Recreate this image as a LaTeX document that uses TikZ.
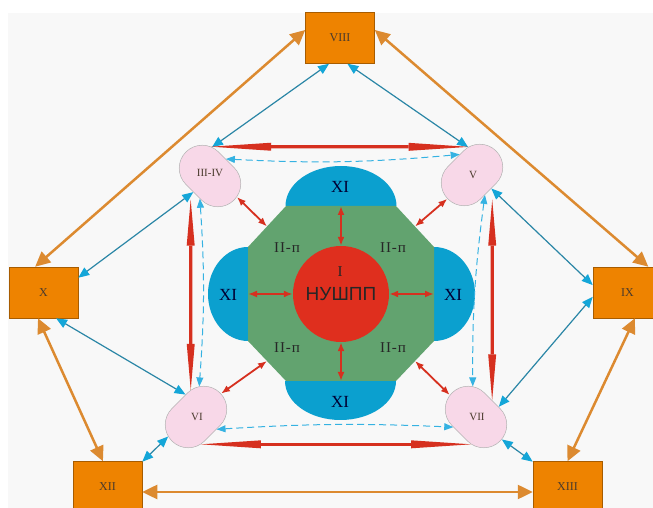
\documentclass[tikz,border=0pt]{standalone}
\usepackage{fontspec}
\setmainfont{Liberation Serif}
\setsansfont{Liberation Sans}
\usepackage{tikz}
\usetikzlibrary{arrows.meta,shapes.misc}
\definecolor{bggray}{HTML}{F8F8F8}
\definecolor{boxorange}{HTML}{EE8300}
\definecolor{linkorange}{HTML}{DC8A30}
\definecolor{capblue}{HTML}{0BA0CF}
\definecolor{octgreen}{HTML}{62A36F}
\definecolor{corered}{HTML}{DF2F1E}
\definecolor{capsulepink}{HTML}{F8D8E8}
\definecolor{linkred}{HTML}{D6301F}
\definecolor{linkblue}{HTML}{2A86A6}
\definecolor{tipblue}{HTML}{14A6D8}
\definecolor{dashblue}{HTML}{35B2E2}
\definecolor{labeltext}{HTML}{4A3A2C}
\tikzset{
  orangebox/.style={rectangle, draw=boxorange!70!black, line width=0.5pt, fill=boxorange, minimum width=69pt, minimum height=51pt, inner sep=0pt, font=\fontsize{12}{14}\selectfont, text=labeltext},
  pinkcap/.style={rounded rectangle, draw=gray!60, line width=0.5pt, fill=capsulepink, minimum width=68pt, minimum height=46pt, inner sep=0pt},
  captext/.style={font=\fontsize{11}{13}\selectfont, text=labeltext},
  xitext/.style={font=\fontsize{17}{19}\selectfont, text=black!80!blue},
  zonetext/.style={font=\fontsize{15}{17}\selectfont\addfontfeatures{LetterSpace=6}, text=black!85},
  orangelink/.style={line width=2.5pt, draw=linkorange, {Triangle[length=15pt,width=14pt]}-{Triangle[length=15pt,width=14pt]}},
  bluelink/.style={line width=1.2pt, draw=linkblue, {Triangle[length=11pt,width=9pt,color=tipblue]}-{Triangle[length=11pt,width=9pt,color=tipblue]}},
  dashlink/.style={line width=1pt, draw=dashblue, dash pattern=on 7pt off 4pt, {Triangle[length=9pt,width=7pt]}-{Triangle[length=9pt,width=7pt]}},
  redlink/.style={line width=3.2pt, draw=linkred, {Triangle[length=#1,width=8pt,line width=0pt]}-{Triangle[length=#1,width=8pt,line width=0pt]}},
  redlink/.default=60pt,
  redshort/.style={line width=1.8pt, draw=linkred, {Latex[length=9pt,width=7pt]}-{Latex[length=9pt,width=7pt]}},
}

\begin{document}
\begin{tikzpicture}[x=1pt, y=1pt]
\useasboundingbox (0,0) rectangle (653,508);
\fill[bggray] (8,0) rectangle (653,495);

%Centre
\fill[capblue] (285.5,302) arc[start angle=180, end angle=0, x radius=55.5, y radius=40] -- cycle;
\fill[capblue] (248,261) arc[start angle=90, end angle=270, x radius=40, y radius=47] -- cycle;
\fill[capblue] (434,167) arc[start angle=-90, end angle=90, x radius=41, y radius=47] -- cycle;
\fill[capblue] (396,127) arc[start angle=0, end angle=-180, x radius=55.5, y radius=39] -- cycle;
\fill[octgreen] (286,302) -- (396,302) -- (434,261) -- (434,167) -- (396,127) -- (286,127) -- (248,167) -- (248,261) -- cycle;
\node[circle, fill=corered, minimum size=96pt, inner sep=0pt] (nushpp) at (341,214) {};

\coordinate (oct-n) at (341,302);
\coordinate (oct-s) at (341,127);
\coordinate (oct-w) at (248,214);
\coordinate (oct-e) at (434,214);
\coordinate (oct-nw) at (267,281.5);
\coordinate (oct-ne) at (415,281.5);
\coordinate (oct-sw) at (267,147);
\coordinate (oct-se) at (415,147);

\node[xitext] (xi-n) at (340,321) {XI};
\node[xitext] (xi-w) at (228,213) {XI};
\node[xitext] (xi-e) at (453,213) {XI};
\node[xitext] (xi-s) at (340,106) {XI};
\node[zonetext] (zone-nw) at (287,260) {II-п};
\node[zonetext] (zone-ne) at (393,260) {II-п};
\node[zonetext] (zone-sw) at (287,160) {II-п};
\node[zonetext] (zone-se) at (393,160) {II-п};
\node[zonetext] (core-num) at (340,236) {I};
\node[font=\sffamily\fontsize{19}{21}\selectfont, text=black!85] (core-name) at (341,214) {НУШПП};

%Nodes
\node[orangebox] (viii) at (340,470) {VIII};
\node[orangebox] (x) at (43.5,215.5) {X};
\node[orangebox] (ix) at (627.5,215.5) {IX};
\node[orangebox] (xii) at (107.5,21) {XII};
\node[orangebox] (xiii) at (567.5,21) {XIII};

\node[pinkcap, rotate=-45] (p34) at (210,332) {};
\node[pinkcap, rotate=45] (p5) at (472,333) {};
\node[pinkcap, rotate=45] (p6) at (196,91) {};
\node[pinkcap, rotate=-45] (p7) at (476,91) {};
\node[captext] (t34) at (210,335) {III-IV};
\node[captext] (t5) at (473,333) {V};
\node[captext] (t6) at (197,91) {VI};
\node[captext] (t7) at (477,91) {VII};

%Lines
\draw[orangelink] (viii.167) -- (x.108);
\draw[orangelink] (viii.13) -- (ix.51);
\draw[orangelink] (x.258) -- (xii.100);
\draw[orangelink] (ix.286) -- (xiii.90);
\draw[orangelink] ([yshift=-5pt]xii.east) -- ([yshift=-5pt]xiii.west);

\draw[bluelink] (viii.247) -- (p34.131);
\draw[bluelink] (viii.286) -- (p5.53);
\draw[bluelink] (x.23) -- (p34.269);
\draw[bluelink] (x.296) -- (p6.70);
\draw[bluelink] (ix.168) -- (p5.280);
\draw[bluelink] (ix.187) -- (p7.69);
\draw[bluelink] (xii.36) -- (p6.170);
\draw[bluelink] (xiii.144) -- (p7.4);

\draw[dashlink] (p34.92) to[bend right=4] (p5.76);
\draw[dashlink] (p34.291) to[bend left=4] (p6.39);
\draw[dashlink] (p5.258) to[bend right=4] (p7.141);
\draw[dashlink] (p6.284) to[bend left=3] (p7.249);

\draw[redlink] (p34.133) -- (p5.52);
\draw[redlink=46pt, shorten <=10pt] (p34.260) -- (p6.56);
\draw[redlink=46pt, shorten <=12pt] (p5.283) -- (p7.91);
\draw[redlink] (p6.235) -- (p7.305);

\draw[redshort] (p34.7) -- (oct-nw);
\draw[redshort] (p5.179) -- (oct-ne);
\draw[redshort] (p6.358) -- (oct-sw);
\draw[redshort] (p7.185) -- (oct-se);
\draw[redshort] (oct-n) -- (nushpp);
\draw[redshort] (oct-s) -- (nushpp);
\draw[redshort] (oct-w) -- (nushpp);
\draw[redshort] (oct-e) -- (nushpp);
\end{tikzpicture}
\end{document}
